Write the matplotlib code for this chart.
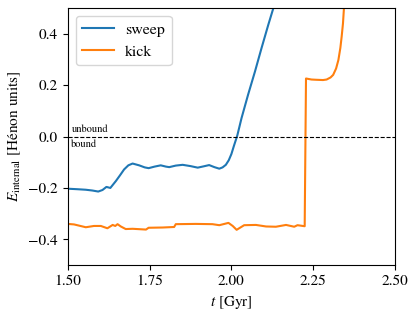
import matplotlib
matplotlib.use("Agg")
import matplotlib.pyplot as plt

plt.rcParams['font.family'] = ['STIXGeneral', 'DejaVu Serif']
plt.rcParams['mathtext.fontset'] = 'stix'
plt.rcParams['font.size'] = 11

sweep_t = [1.500, 1.530, 1.555, 1.575, 1.593, 1.606, 1.618, 1.624, 1.630, 1.647,
           1.660, 1.672, 1.685, 1.698, 1.718, 1.735, 1.747, 1.765, 1.784, 1.800,
           1.810, 1.830, 1.851, 1.875, 1.897, 1.915, 1.932, 1.948, 1.963, 1.973,
           1.983, 1.992, 2.000, 2.008, 2.018, 2.031, 2.051, 2.072, 2.092, 2.1125,
           2.128, 2.135]
sweep_E = [-0.203, -0.205, -0.207, -0.210, -0.214, -0.208, -0.196, -0.198, -0.200, -0.173,
           -0.150, -0.128, -0.112, -0.105, -0.112, -0.120, -0.123, -0.117, -0.112, -0.117,
           -0.119, -0.113, -0.110, -0.115, -0.121, -0.116, -0.111, -0.119, -0.125, -0.120,
           -0.110, -0.092, -0.068, -0.035, 0.004, 0.072, 0.163, 0.253, 0.344, 0.434,
           0.499, 0.53]

kick_t = [1.500, 1.519, 1.555, 1.580, 1.601, 1.621, 1.637, 1.645, 1.652, 1.662,
          1.677, 1.698, 1.739, 1.747, 1.790, 1.825, 1.830, 1.891, 1.942, 1.963,
          1.991, 2.004, 2.016, 2.039, 2.075, 2.106, 2.136, 2.167, 2.192, 2.202,
          2.224, 2.228, 2.245, 2.260, 2.280, 2.291, 2.303, 2.311, 2.320, 2.327,
          2.333, 2.337, 2.341, 2.344, 2.347]
kick_E = [-0.340, -0.342, -0.353, -0.348, -0.348, -0.357, -0.344, -0.348, -0.341, -0.350,
          -0.360, -0.359, -0.362, -0.355, -0.354, -0.352, -0.341, -0.340, -0.341, -0.345,
          -0.336, -0.348, -0.363, -0.345, -0.344, -0.350, -0.351, -0.344, -0.351, -0.345,
          -0.349, 0.226, 0.222, 0.221, 0.220, 0.222, 0.230, 0.240, 0.265, 0.298,
          0.345, 0.389, 0.440, 0.500, 0.550]

fig = plt.figure(figsize=(4.16, 3.12), dpi=100)
ax = fig.add_axes([0.163, 0.1506, 0.7865, 0.8234])
ax.plot(sweep_t, sweep_E, color='#1f77b4', lw=1.5, label='sweep')
ax.plot(kick_t, kick_E, color='#ff7f0e', lw=1.5, label='kick')
ax.axhline(0, color='black', ls='--', lw=0.8)
ax.text(1.511, 0.01, 'unbound', fontsize=7.5, va='bottom', ha='left')
ax.text(1.511, -0.012, 'bound', fontsize=7.5, va='top', ha='left')
ax.set_xlim(1.5, 2.5)
ax.set_ylim(-0.5, 0.5)
ax.set_xticks([1.50, 1.75, 2.00, 2.25, 2.50])
ax.set_xticklabels(['1.50', '1.75', '2.00', '2.25', '2.50'])
ax.set_yticks([-0.4, -0.2, 0.0, 0.2, 0.4])
ax.set_xlabel('$t$ [Gyr]')
ax.set_ylabel(r'$E_\mathrm{internal}$ [Hénon units]')
ax.legend(loc='upper left', fontsize=11.5, handletextpad=0.7)
fig.savefig('out.png', dpi=100)
